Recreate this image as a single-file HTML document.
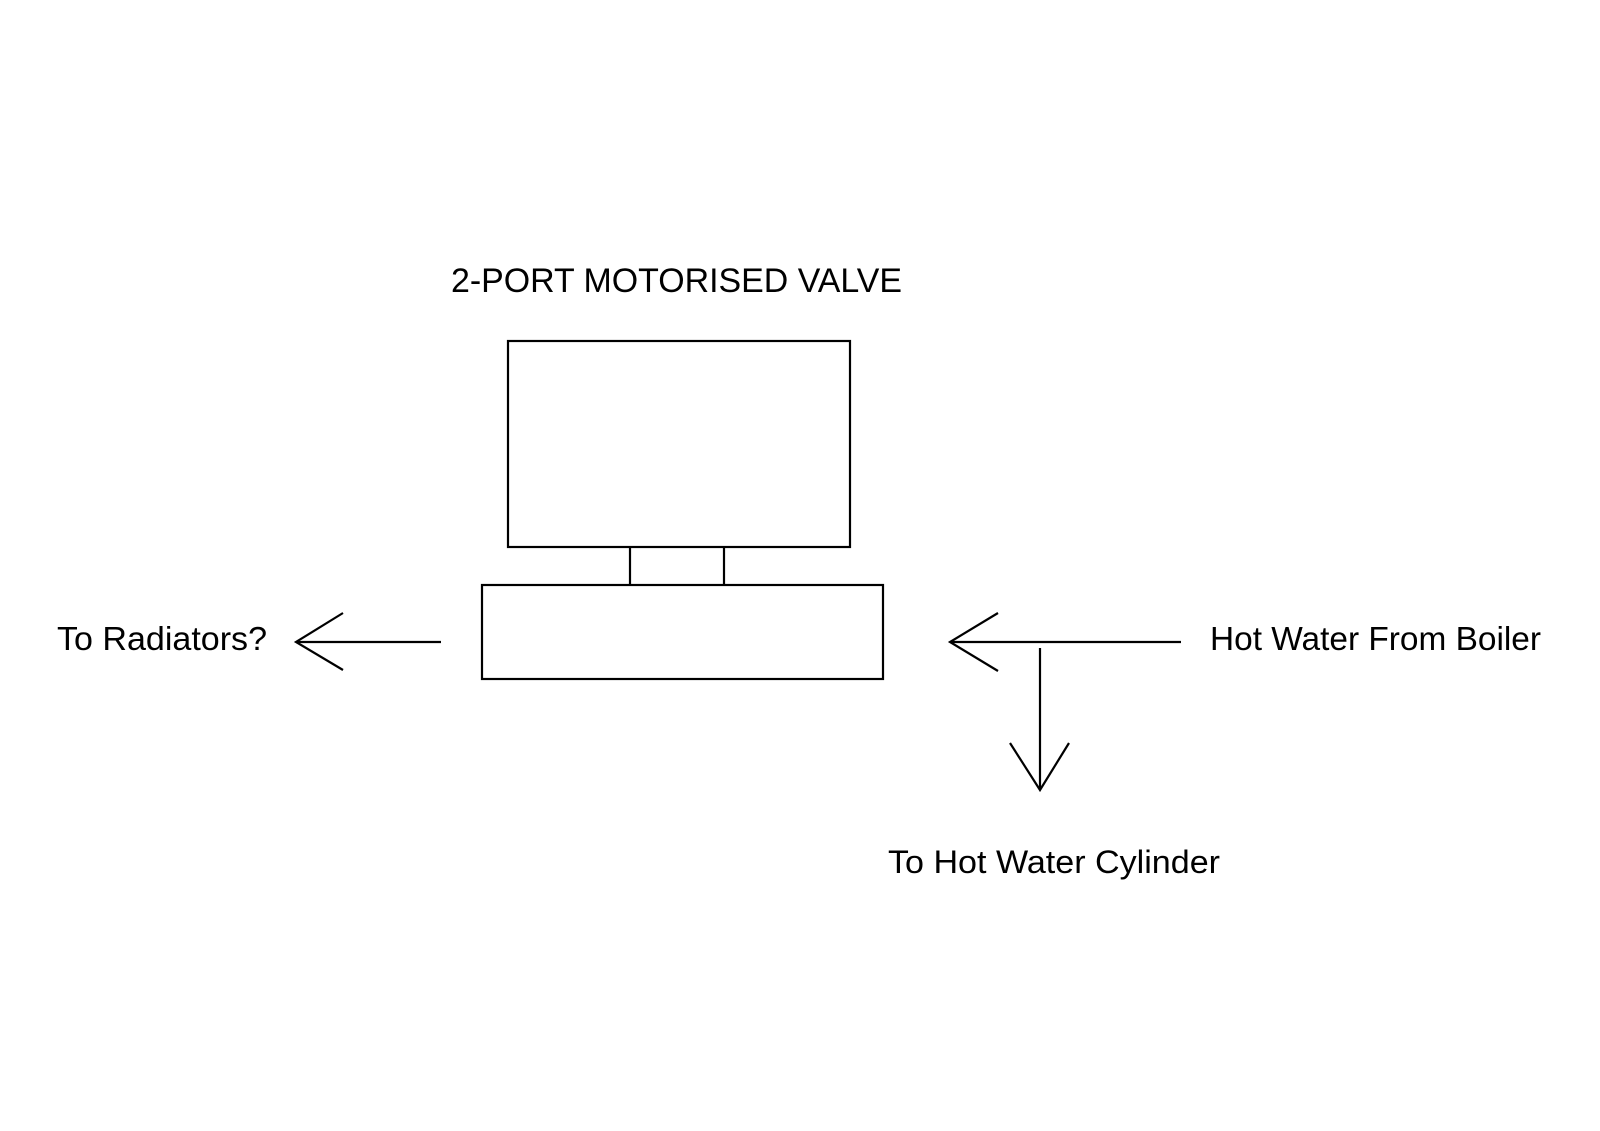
<!DOCTYPE html>
<html><head><meta charset="utf-8"><style>html,body{margin:0;padding:0;background:#fff}svg{display:block}</style></head>
<body>
<svg width="1600" height="1131" viewBox="0 0 1600 1131" xmlns="http://www.w3.org/2000/svg">
<rect width="1600" height="1131" fill="#fff"/>
<g font-family="Liberation Sans, Arial, sans-serif" fill="#000">
<text x="451" y="292" font-size="34" textLength="451" lengthAdjust="spacingAndGlyphs">2-PORT MOTORISED VALVE</text>
<text x="57" y="650" font-size="33" textLength="210" lengthAdjust="spacingAndGlyphs">To Radiators?</text>
<text x="1210" y="650" font-size="33" textLength="331" lengthAdjust="spacingAndGlyphs">Hot Water From Boiler</text>
<text x="888" y="873" font-size="32" textLength="332" lengthAdjust="spacingAndGlyphs">To Hot Water Cylinder</text>
</g>
<g stroke="#000" stroke-width="2.2" fill="none">
<rect x="508" y="341" width="342" height="206"/>
<line x1="630" y1="547" x2="630" y2="585"/>
<line x1="724" y1="547" x2="724" y2="585"/>
<rect x="482" y="585" width="401" height="94"/>
<line x1="296" y1="642" x2="441" y2="642"/>
<polyline points="343,613 296,642 343,670"/>
<line x1="950" y1="642" x2="1181" y2="642"/>
<polyline points="998,613 950,642 998,671"/>
<line x1="1040" y1="648" x2="1040" y2="790"/>
<polyline points="1010,743 1040,790 1069,743"/>
</g>
</svg>
</body></html>
